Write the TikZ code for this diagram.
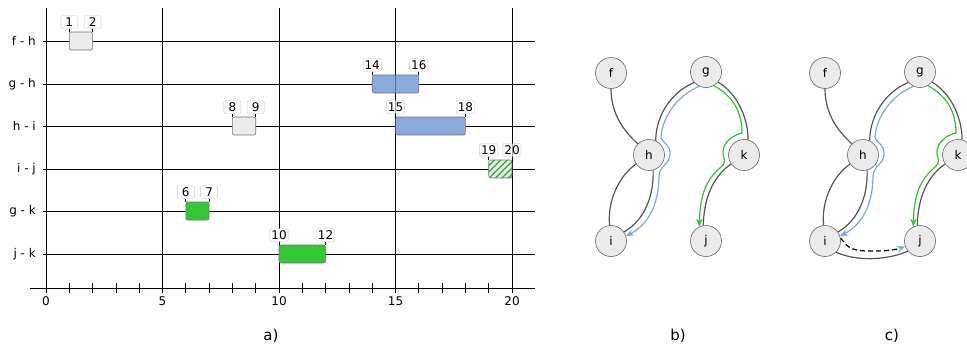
\documentclass[tikz,border=0pt]{standalone}
\usepackage{fontspec}
\setmainfont{DejaVu Sans}
\usetikzlibrary{arrows.meta,patterns.meta}
\definecolor{barblue}{RGB}{136,170,221}
\definecolor{bargreen}{RGB}{51,199,51}
\definecolor{bargrey}{RGB}{235,235,235}
\definecolor{edgegrey}{RGB}{85,85,85}
\definecolor{pathblue}{RGB}{130,165,220}
\definecolor{pathgreen}{RGB}{45,196,45}
\tikzset{
  gridline/.style={draw=black, line width=0.8pt},
  overline/.style={draw=black, line width=0.8pt, draw opacity=0.35},
  rowlab/.style={font=\fontsize{12}{14}\selectfont, inner sep=0pt},
  ticklab/.style={font=\fontsize{12}{14}\selectfont, inner sep=0pt},
  sublab/.style={font=\fontsize{15}{17}\selectfont, inner sep=0pt},
  blab/.style={draw=black!22, fill=white, rounded corners=1.5pt, font=\fontsize{12}{14}\selectfont,
    inner xsep=1.5pt, inner ysep=0pt, minimum height=13pt, minimum width=17pt},
  btick/.style={draw=black, line width=0.7pt},
  barbase/.style={draw=black!55, line width=0.6pt, rounded corners=2pt},
  greybar/.style={barbase, fill=bargrey},
  bluebar/.style={barbase, fill=barblue},
  greenbar/.style={barbase, fill=bargreen},
  hatchbar/.style={barbase, fill=bargrey,
    postaction={pattern={Lines[angle=45,distance=4.5pt,line width=1.2pt]}, pattern color=bargreen!85!black}},
  gnode/.style={circle, draw=black!60, fill=bargrey, line width=0.6pt, minimum size=31pt, inner sep=0pt,
    font=\fontsize{12}{14}\selectfont},
  edge/.style={draw=edgegrey, line width=1.2pt},
  bluepath/.style={draw=pathblue, line width=1.2pt, -{Stealth[length=8pt,width=6.5pt]}},
  greenpath/.style={draw=pathgreen, line width=1.2pt, -{Stealth[length=8pt,width=6.5pt]}},
  dashpath/.style={draw=black, line width=1.2pt, dash pattern=on 5pt off 3pt,
    -{Stealth[length=8pt,width=6.5pt,color=pathblue]}}
}
\newcommand\ganttbar[4]{%
  \draw[#4] (#2,#1-9) rectangle (#3,#1+9);
  \node[blab] (b#1s#2) at (#2,#1-19) {#2};
  \node[blab] (b#1e#3) at (#3,#1-19) {#3};
  \draw[btick] (b#1s#2.south) -- (#2,#1-9);
  \draw[btick] (b#1e#3.south) -- (#3,#1-9);
}
\newcommand\drawmygraph[1]{%
  \node[gnode] (#1f) at (611,73) {f};
  \node[gnode] (#1g) at (706,72) {g};
  \node[gnode] (#1h) at (649,155) {h};
  \node[gnode] (#1k) at (744,155) {k};
  \node[gnode] (#1i) at (611,241) {i};
  \node[gnode] (#1j) at (706,241) {j};
  \draw[edge] (#1f.270) .. controls (611,115) and (625,132) .. (#1h.135);
  \draw[edge] (#1g.222) .. controls (675,90) and (656,112) .. (#1h.65);
  \draw[edge] (#1h.285) .. controls (654,195) and (645,220) .. (#1i.35);
  \draw[edge] (#1h.215) .. controls (620,175) and (607,200) .. (#1i.95);
  \draw[edge] (#1g.320) .. controls (735,92) and (748,115) .. (#1k.75);
  \draw[edge] (#1k.215) .. controls (715,175) and (704,195) .. (#1j.100);
  \draw[bluepath] (#1g.245) .. controls (680,94) and (662,115) .. (661,138)
     .. controls (663,143) and (671,145) .. (670,155)
     .. controls (669,165) and (660,165) .. (659,176)
     .. controls (659,200) and (651,223) .. (#1i.18);
  \draw[greenpath] (#1g.300) .. controls (733,96) and (742,112) .. (742,133)
     .. controls (733,135) and (723,142) .. (723,152)
     .. controls (723,160) and (728,161) .. (720,168)
     .. controls (706,180) and (700,195) .. (#1j.115);
}
\begin{document}
\begin{tikzpicture}[x=1pt,y=-1pt]
\useasboundingbox (0,0) rectangle (967,349);
% ---------- a) chart ----------
\begin{scope}[shift={(46,0)}, x=23.3pt]
  \foreach \r/\lab [count=\n] in {41/f - h, 84/g - h, 126/h - i, 169/i - j, 211/g - k, 254/j - k} {
    \draw[gridline] (-0.13,\r) -- (21,\r);
    \node[rowlab, anchor=east] (row\n) at (-0.43,\r) {\lab};
  }
  \draw[gridline] (-0.69,288) -- (21,288);
  \foreach \t in {0,...,20} { \draw[gridline] (\t,283) -- (\t,293); }
  \foreach \t in {0,5,...,20} {
    \draw[gridline] (\t,8) -- (\t,293);
    \node[ticklab] (tick\t) at (\t,301) {\t};
  }
  \ganttbar{41}{1}{2}{greybar}
  \ganttbar{84}{14}{16}{bluebar}
  \ganttbar{126}{8}{9}{greybar}
  \ganttbar{126}{15}{18}{bluebar}
  \ganttbar{169}{19}{20}{hatchbar}
  \ganttbar{211}{6}{7}{greenbar}
  \ganttbar{254}{10}{12}{greenbar}
  \foreach \t in {15,20} { \draw[overline] (\t,8) -- (\t,288); }
\end{scope}
\node[sublab] (la) at (271,336) {a)};
% ---------- b) graph ----------
\drawmygraph{b}
\node[sublab] (lb) at (678,336) {b)};
% ---------- c) graph ----------
\begin{scope}[shift={(214,0)}]
  \drawmygraph{c}
  \draw[edge] (ci.-45) .. controls (641,261) and (671,261) .. (cj.-140);
  \draw[dashpath] (ci.10) .. controls (633,243) and (630,252) .. (661,251)
     .. controls (676,251) and (684,249) .. (cj.200);
\end{scope}
\node[sublab] (lc) at (892,336) {c)};
\end{tikzpicture}
\end{document}
